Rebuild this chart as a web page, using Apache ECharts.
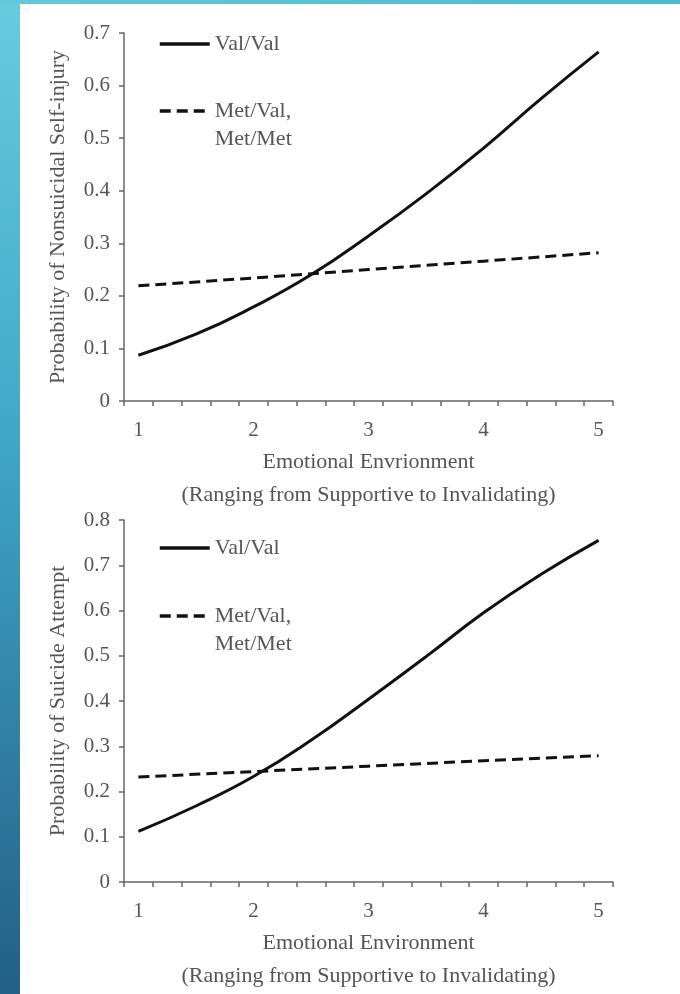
<!DOCTYPE html>
<html>
<head>
<meta charset="utf-8">
<script src="https://cdn.jsdelivr.net/npm/echarts@6/dist/echarts.min.js"></script>
<style>
html,body{margin:0;padding:0;background:#fff;}
#chart{width:680px;height:994px;}
</style>
</head>
<body>
<div id="chart"></div>
<script>
// ---- data ----
const xSmooth = [1, 1.5, 2, 2.5, 3, 3.5, 4, 4.5, 5];
const xLinear = [1, 2, 3, 4, 5];
// Top panel: probability of nonsuicidal self-injury
const nssiValVal = [0.087, 0.127, 0.179, 0.240, 0.314, 0.394, 0.481, 0.575, 0.664];
const nssiMet = [0.219, 0.234, 0.250, 0.266, 0.282];
// Bottom panel: probability of suicide attempt
const saValVal = [0.112, 0.168, 0.233, 0.313, 0.404, 0.498, 0.595, 0.680, 0.755];
const saMet = [0.232, 0.244, 0.256, 0.268, 0.279];
// axis labels
const xLabels = [1, 2, 3, 4, 5];
const xTicks = [0.875, 1.125, 1.375, 1.625, 1.875, 2.125, 2.375, 2.625, 2.875,
                3.125, 3.375, 3.625, 3.875, 4.125, 4.375, 4.625, 4.875, 5.125];
const nameSolid = 'Val/Val';
const nameDashed = 'Met/Val,\nMet/Met';
const topXTitle = 'Emotional Envrionment\n(Ranging from Supportive to Invalidating)';
const botXTitle = 'Emotional Environment\n(Ranging from Supportive to Invalidating)';
const topYTitle = 'Probability of Nonsuicidal Self-injury';
const botYTitle = 'Probability of Suicide Attempt';

const pairs = (xs, ys) => xs.map((x, i) => [x, ys[i]]);

const FONT = '"Liberation Serif", "Times New Roman", serif';
const TXT = '#555';
const AX = '#666';

function xAxisCfg(gridIndex, title) {
  return {
    type: 'value', gridIndex, min: 0.875, max: 5.125,
    splitLine: {show: false},
    axisLine: {show: true, lineStyle: {color: AX, width: 1.5}},
    axisTick: {show: true, customValues: xTicks, length: 5, lineStyle: {color: AX, width: 1.5}},
    axisLabel: {customValues: xLabels, color: TXT, fontFamily: FONT, fontSize: 21, margin: 19},
    name: title, nameLocation: 'middle', nameGap: 45,
    nameTextStyle: {color: TXT, fontFamily: FONT, fontSize: 22, lineHeight: 33}
  };
}
function yAxisCfg(gridIndex, max, title) {
  return {
    type: 'value', gridIndex, min: 0, max: max, interval: 0.1,
    splitLine: {show: false},
    axisLine: {show: true, lineStyle: {color: AX, width: 1.5}},
    axisTick: {show: true, length: 5, lineStyle: {color: AX, width: 1.5}},
    axisLabel: {color: TXT, fontFamily: FONT, fontSize: 21, margin: 14},
    name: title, nameLocation: 'middle', nameGap: 55, nameRotate: 90,
    nameTextStyle: {color: TXT, fontFamily: FONT, fontSize: 22}
  };
}
function seriesCfg(name, idx, xs, ys, dashed) {
  return {
    type: 'line', name, xAxisIndex: idx, yAxisIndex: idx,
    data: pairs(xs, ys), symbol: 'none', smooth: !dashed, silent: true,
    lineStyle: {color: '#111', width: 3, type: dashed ? [11, 6] : 'solid'},
    itemStyle: {color: '#111'}
  };
}
function legendCfg(name, top, multi) {
  return {
    data: [name], left: 158, top: top, orient: 'vertical', padding: 0,
    itemWidth: 50, itemHeight: 14, selectedMode: false,
    itemStyle: {opacity: 0},
    lineStyle: {width: 3.5, color: '#111'},
    formatter: multi ? (n) => '\n' + n : (n) => n,
    textStyle: {color: TXT, fontFamily: FONT, fontSize: 22, lineHeight: 28}
  };
}

const chart = echarts.init(document.getElementById('chart'), null, {renderer: 'canvas'});
chart.setOption({
  backgroundColor: '#ffffff',
  animation: false,
  graphic: [
    {type: 'rect', left: 0, top: 0, shape: {width: 20, height: 994}, silent: true,
     style: {fill: new echarts.graphic.LinearGradient(0, 0, 0, 1, [
       {offset: 0, color: '#66cce0'}, {offset: 0.45, color: '#3fa6c6'}, {offset: 1, color: '#235f86'}])}},
    {type: 'rect', left: 0, top: 0, shape: {width: 680, height: 4}, silent: true,
     style: {fill: new echarts.graphic.LinearGradient(0, 0, 1, 0, [
       {offset: 0, color: '#62c8dc'}, {offset: 1, color: '#48bbd3'}])}}
  ],
  grid: [
    {left: 124, right: 67, top: 33, height: 368},
    {left: 124, right: 67, top: 520, height: 370}
  ],
  xAxis: [xAxisCfg(0, topXTitle), xAxisCfg(1, botXTitle)],
  yAxis: [yAxisCfg(0, 0.7, topYTitle), yAxisCfg(1, 0.8, botYTitle)],
  legend: [
    legendCfg(nameSolid, 30, false),
    legendCfg(nameDashed, 69, true),
    legendCfg(nameSolid, 534, false),
    legendCfg(nameDashed, 574, true)
  ],
  series: [
    seriesCfg(nameSolid, 0, xSmooth, nssiValVal, false),
    seriesCfg(nameDashed, 0, xLinear, nssiMet, true),
    seriesCfg(nameSolid, 1, xSmooth, saValVal, false),
    seriesCfg(nameDashed, 1, xLinear, saMet, true)
  ]
});
</script>
</body>
</html>
